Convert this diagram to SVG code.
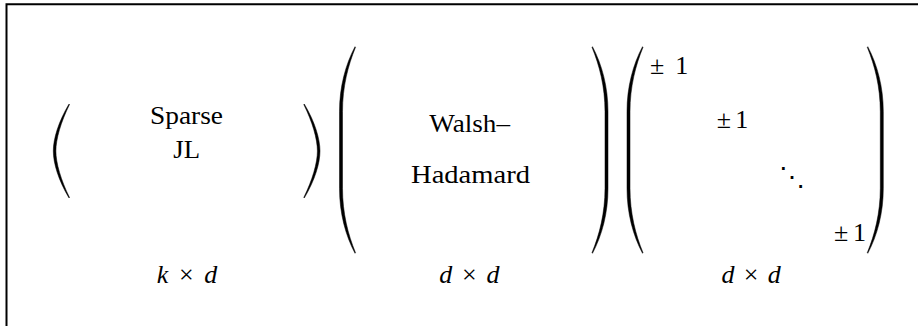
<svg xmlns="http://www.w3.org/2000/svg" xmlns:xlink="http://www.w3.org/1999/xlink" width="918" height="326" viewBox="0 0 918 326">
<style>
.p{fill:#000;stroke:#000;stroke-width:0.5}
.t{font-family:"Liberation Serif","Times New Roman",serif;font-size:26px;fill:#000}
.i{font-style:italic}
</style>
<defs>
<path id="parenTall" class="p" d="M15.5,0 C6,18 0,40 0,65 L0,141.6 C0,166.6 6,188.6 15.5,206.6 L16,206 C8.6,188 3,166.6 3,141.6 L3,65 C3,40 8.6,18.6 16,0.6 Z"/>
<path id="parenSmall" class="p" d="M15.7,0 C5,18 0,35 0,47 C0,59 5,76 15.7,94 L16.2,93.5 C7.6,76 2.6,59 2.6,47 C2.6,35 7.6,18 16.2,0.5 Z"/>
</defs>
<rect x="0" y="0" width="918" height="326" fill="#fff"/>
<path id="frame" d="M6.5,326 V4.3 H918" fill="none" stroke="#000" stroke-width="2"/>
<g id="matrix-sparse">
<use xlink:href="#parenSmall" transform="translate(53.3,104)"/>
<use xlink:href="#parenSmall" transform="translate(320,104) scale(-1,1)"/>
<text class="t" x="150" y="124.3" textLength="73" lengthAdjust="spacingAndGlyphs">Sparse</text>
<text class="t" x="173.3" y="158" textLength="26.7" lengthAdjust="spacingAndGlyphs">JL</text>
</g>
<g id="matrix-walsh-hadamard">
<use xlink:href="#parenTall" transform="translate(339.5,46.7)"/>
<use xlink:href="#parenTall" transform="translate(608,46.7) scale(-1,1)"/>
<text class="t" x="429.3" y="131.7" textLength="80.7" lengthAdjust="spacingAndGlyphs">Walsh–</text>
<text class="t" x="411" y="183.3" textLength="119" lengthAdjust="spacingAndGlyphs">Hadamard</text>
</g>
<g id="matrix-diagonal">
<use xlink:href="#parenTall" transform="translate(627,46.7)"/>
<use xlink:href="#parenTall" transform="translate(883.3,46.7) scale(-1,1)"/>
<text class="t" x="650" y="74.3" textLength="38.3">± 1</text>
<text class="t" x="716.7" y="127.7" textLength="31.6">±1</text>
<text font-family="DejaVu Serif, serif" font-size="26" x="791.5" y="186" text-anchor="middle">⋱</text>
<text class="t" x="834" y="240.7" textLength="32">±1</text>
</g>
<g id="labels">
<text class="t" x="156.7" y="283.3" textLength="60.6"><tspan class="i">k</tspan> × <tspan class="i">d</tspan></text>
<text class="t" x="439.3" y="283.3" textLength="60.2"><tspan class="i">d</tspan> × <tspan class="i">d</tspan></text>
<text class="t" x="721.4" y="283.3" textLength="59.4"><tspan class="i">d</tspan> × <tspan class="i">d</tspan></text>
</g>
</svg>
